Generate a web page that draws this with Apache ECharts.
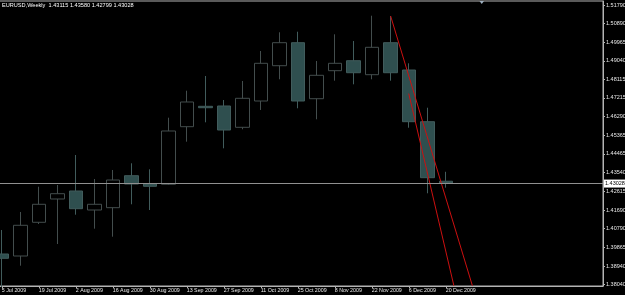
<!DOCTYPE html>
<html>
<head>
<meta charset="utf-8">
<script src="https://cdn.jsdelivr.net/npm/echarts@6/dist/echarts.min.js"></script>
<style>html,body{margin:0;padding:0;background:#000;}#c{width:625px;height:295px;}</style>
</head>
<body>
<div id="c"></div>
<script>
// ---- data ----
const symbolName = 'EURUSD,Weekly';
const categories = ['5 Jul 2009','12 Jul 2009','19 Jul 2009','26 Jul 2009','2 Aug 2009','9 Aug 2009','16 Aug 2009','23 Aug 2009','30 Aug 2009','6 Sep 2009','13 Sep 2009','20 Sep 2009','27 Sep 2009','4 Oct 2009','11 Oct 2009','18 Oct 2009','25 Oct 2009','1 Nov 2009','8 Nov 2009','15 Nov 2009','22 Nov 2009','29 Nov 2009','6 Dec 2009','13 Dec 2009','20 Dec 2009'];
const futureWeeks = ['27 Dec 2009','3 Jan 2010','10 Jan 2010','17 Jan 2010','24 Jan 2010','31 Jan 2010','7 Feb 2010','14 Feb 2010'];
const opens  = [1.39532,1.39433,1.41093,1.42240,1.42634,1.41698,1.41812,1.43387,1.42978,1.42964,1.45800,1.46804,1.46819,1.45770,1.47065,1.48803,1.49936,1.47178,1.48557,1.49049,1.48360,1.49936,1.48591,1.46046,1.43115];
const highs  = [1.40714,1.41600,1.42846,1.42929,1.44406,1.43225,1.43668,1.43998,1.43702,1.46243,1.47572,1.48296,1.47114,1.48050,1.49527,1.50448,1.50477,1.49035,1.50349,1.50020,1.51265,1.51250,1.48921,1.46735,1.43580];
const lows   = [1.37900,1.38956,1.41009,1.40024,1.41467,1.40778,1.40384,1.41979,1.41698,1.42929,1.45061,1.46016,1.44736,1.45672,1.46622,1.48134,1.46706,1.46164,1.48065,1.47887,1.48134,1.48065,1.45750,1.42521,1.42799];
const closes = [1.39320,1.40945,1.41979,1.42501,1.41762,1.41979,1.43175,1.42978,1.42865,1.45588,1.47016,1.46735,1.45637,1.47198,1.48921,1.49936,1.47065,1.48330,1.48921,1.48458,1.49709,1.48458,1.46046,1.43289,1.43028];
const yTicks = [1.51790,1.50890,1.49965,1.49040,1.48115,1.47215,1.46290,1.45365,1.44465,1.43540,1.42615,1.41690,1.40790,1.39865,1.38940,1.38040];
const yMin = 1.37956, yMax = 1.51989;
// trendlines: [week index, price]
const trendA = [[21.02,1.51250],[25.44,1.37970]];
const trendB = [[22.00,1.47430],[24.44,1.37970]];

// ---- chart ----
const axisData = categories.concat(futureWeeks);
const N = axisData.length;
const last = categories.length - 1;
const candles = opens.map((o,i)=>[o, closes[i], lows[i], highs[i]]);
const FONT = '"Liberation Sans", Arial, sans-serif';
const axisCol = '#b4b4b4';

const chart = echarts.init(document.getElementById('c'), null, {renderer:'canvas'});
chart.setOption({
  backgroundColor:'#000000',
  animation:false,
  title:{
    text: symbolName + '  ' + [opens[last],highs[last],lows[last],closes[last]].map(v=>v.toFixed(5)).join(' '),
    left:2, top:2, padding:0,
    textStyle:{color:'#ffffff', fontSize:5.6, fontWeight:'normal', fontFamily:FONT}
  },
  grid:{left:-7.5, right:22, top:1, bottom:9, show:true, borderColor:axisCol, borderWidth:1,
    backgroundColor:'transparent', containLabel:false, outerBoundsMode:'none'},
  xAxis:[{
    type:'category', data:axisData, boundaryGap:true,
    axisLine:{show:true, onZero:false, lineStyle:{color:axisCol, width:1}},
    axisTick:{show:true, alignWithLabel:true, length:2, lineStyle:{color:axisCol},
      interval:(i)=> i%2===0 && i<=last},
    axisLabel:{color:'#e8e8e8', fontSize:5.3, fontFamily:FONT, margin:2, align:'left',
      interval:(i)=> i%2===0 && i<=last},
    splitLine:{show:false}
  },{
    type:'value', min:-0.5, max:N-0.5, show:false,
    axisLine:{show:false, onZero:false}
  }],
  yAxis:{
    type:'value', position:'right', min:yMin, max:yMax, scale:true,
    axisLine:{show:true, onZero:false, lineStyle:{color:axisCol, width:1}},
    axisTick:{show:true, length:2, lineStyle:{color:axisCol}, customValues:yTicks},
    axisLabel:{color:'#e8e8e8', fontSize:5.5, fontFamily:FONT, margin:3,
      customValues:yTicks, formatter:(v)=>Number(v).toFixed(5)},
    splitLine:{show:false}
  },
  series:[{
    type:'candlestick', data:candles, barWidth:14, clip:true,
    itemStyle:{color:'#000000', color0:'#2f4f4f', borderColor:'#434d4d', borderColor0:'#415c5c', borderWidth:1},
    markLine:{
      silent:true, symbol:'none', animation:false,
      data:[{yAxis:closes[last]}],
      lineStyle:{color:'#909090', width:1, type:'solid'},
      label:{position:'end', distance:1, formatter:()=>closes[last].toFixed(5),
        backgroundColor:'#ffffff', color:'#000000', fontSize:5.5, fontFamily:FONT, padding:[1,2,1,1]}
    }
  },{
    type:'line', xAxisIndex:1, data:trendA, symbol:'none', clip:true,
    lineStyle:{color:'#cc1010', width:1}
  },{
    type:'line', xAxisIndex:1, data:trendB, symbol:'none', clip:true,
    lineStyle:{color:'#cc1010', width:1}
  }],
  graphic:[{
    type:'polygon', shape:{points:[[479.5,1],[484,1],[481.75,4]]},
    style:{fill:'#9fb0c0'}
  }]
});
</script>
</body>
</html>
